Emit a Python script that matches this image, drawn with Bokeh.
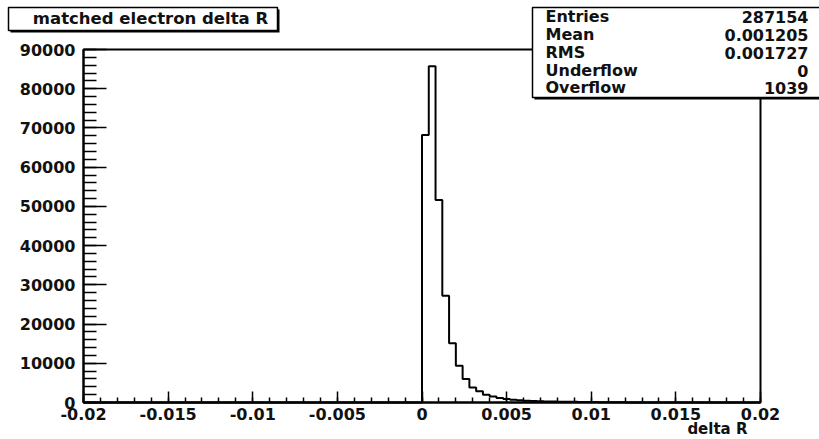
from bokeh.plotting import figure
from bokeh.models import (FixedTicker, CustomJSTickFormatter, Label, BoxAnnotation, Range1d,
                          LinearAxis)
from bokeh.embed import file_html
from bokeh.resources import INLINE

# ---------------- data ----------------
title_text = "matched electron delta R"
x_title = "delta R"
x_lo, x_hi = -0.02, 0.02
n_bins = 100
y_lo, y_hi = 0, 90000
first_filled_bin = 50          # bin starting at 0.0
counts_filled = [68200, 85700, 51600, 27200, 15100, 9400, 6000, 3850, 2850, 2000,
                 1500, 1150, 900, 700, 560, 460, 390, 330, 280, 240,
                 210, 180, 160, 140, 120, 100, 90, 80, 60, 50]
stat_labels = ["Entries", "Mean", "RMS", "Underflow", "Overflow"]
stat_values = ["287154", "0.001205", "0.001727", "0", "1039"]
x_major = [-0.02, -0.015, -0.01, -0.005, 0.0, 0.005, 0.01, 0.015, 0.02]
x_minor_step = 0.001
y_major = [0, 10000, 20000, 30000, 40000, 50000, 60000, 70000, 80000, 90000]
y_minor_step = 2000

# ---------------- layout ----------------
W, H = 819, 439
FL, FR, FT, FB = 83, 760, 49, 402   # histogram frame edges in canvas pixels
FONT = "DejaVu Sans"

# the Bokeh frame covers the whole canvas; data ranges are widened so that
# [x_lo, x_hi] x [y_lo, y_hi] lands on the ROOT-style frame
ux = (x_hi - x_lo) / (FR - FL)
uy = (y_hi - y_lo) / (FB - FT)
xr = Range1d(x_lo - FL * ux, x_hi + (W - FR) * ux)
yr = Range1d(y_lo - (H - FB) * uy, y_hi + FT * uy)

def sx(cx):
    return cx

def sy(cy):
    return H - cy

bw = (x_hi - x_lo) / n_bins
counts = [0] * n_bins
for i, c in enumerate(counts_filled):
    counts[first_filled_bin + i] = c
xs, ys = [x_lo], [0]
for i, c in enumerate(counts):
    e0 = x_lo + i * bw
    xs += [e0, e0 + bw]
    ys += [c, c]
xs.append(x_hi)
ys.append(0)

p = figure(width=W, height=H, x_range=xr, y_range=yr,
           output_backend="svg", toolbar_location=None,
           x_axis_location=None, y_axis_location=None,
           min_border=0)
p.grid.visible = False
p.outline_line_color = None
p.background_fill_color = "white"
p.border_fill_color = "white"

# frame box (top/right edges of the ROOT frame)
p.add_layout(BoxAnnotation(left=x_lo, right=x_hi, bottom=y_lo, top=y_hi,
                           fill_alpha=0, line_color="black", line_alpha=1,
                           line_width=2, level="underlay"))

p.line(xs, ys, line_color="black", line_width=2)

nx = int(round((x_hi - x_lo) / x_minor_step))
ny = int(round((y_hi - y_lo) / y_minor_step))
xaxis = LinearAxis(fixed_location=y_lo, bounds=(x_lo, x_hi),
                   ticker=FixedTicker(ticks=x_major,
                                      minor_ticks=[round(x_lo + k * x_minor_step, 6) for k in range(nx + 1)]),
                   formatter=CustomJSTickFormatter(code="return String(parseFloat(tick.toFixed(5)));"))
yaxis = LinearAxis(fixed_location=x_lo, bounds=(y_lo, y_hi),
                   ticker=FixedTicker(ticks=y_major,
                                      minor_ticks=[y_lo + k * y_minor_step for k in range(ny + 1)]),
                   formatter=CustomJSTickFormatter(code="return String(Math.round(tick));"))

for ax in (xaxis, yaxis):
    ax.axis_line_width = 2
    ax.axis_line_color = "black"
    ax.major_tick_out = 0
    ax.minor_tick_out = 0
    ax.major_tick_line_width = 1.5
    ax.minor_tick_line_width = 1.5
    ax.major_label_text_font = FONT
    ax.major_label_text_font_style = "bold"
    ax.major_label_text_font_size = "16px"
    ax.major_label_text_color = "#111111"

xaxis.major_tick_in = 11
xaxis.minor_tick_in = 5
xaxis.major_label_standoff = 5
yaxis.major_tick_in = 23
yaxis.minor_tick_in = 13
yaxis.major_label_standoff = 8
p.add_layout(xaxis, "below")
p.add_layout(yaxis, "left")

def box(l, r, t, b, **kw):
    return BoxAnnotation(left=sx(l), right=sx(r), top=sy(t), bottom=sy(b),
                         left_units="screen", right_units="screen",
                         top_units="screen", bottom_units="screen", **kw)

def label(cx, cy, text, align, size="17px"):
    return Label(x=sx(cx), y=sy(cy), x_units="screen", y_units="screen", text=text,
                 text_align=align, text_baseline="middle", text_font=FONT,
                 text_font_style="bold", text_font_size=size, text_color="#111111")

# ---- title box ----
p.add_layout(box(10, 279, 9, 32, fill_color="black", fill_alpha=1, line_alpha=0))
p.add_layout(box(8, 277, 7, 30, fill_color="white", fill_alpha=1,
                 line_color="black", line_alpha=1, line_width=1.5))
p.add_layout(label(150, 18, title_text, "center", "16.5px"))

# ---- stats box ----
p.add_layout(box(534, 840, 9, 99, fill_color="black", fill_alpha=1, line_alpha=0))
p.add_layout(box(532, 840, 7, 97, fill_color="white", fill_alpha=1,
                 line_color="black", line_alpha=1, line_width=1.5))
row_y = [16, 34, 52, 70, 87]
for lab, val, cy in zip(stat_labels, stat_values, row_y):
    p.add_layout(label(545, cy, lab, "left", "16px"))
    p.add_layout(label(808, cy, val, "right", "16px"))

# ---- x-axis title ----
p.add_layout(label(747, 428, x_title, "right", "15px"))

open("out.html", "w").write(file_html(p, INLINE))
